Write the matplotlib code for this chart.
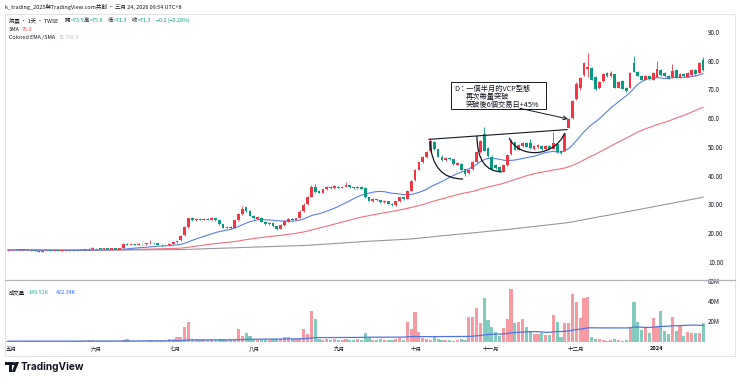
import matplotlib.pyplot as plt
import numpy as np
import pandas as pd
from matplotlib.patches import PathPatch, Rectangle, Polygon
from matplotlib.path import Path
from matplotlib.transforms import blended_transform_factory

plt.rcParams["font.family"] = ["Noto Sans CJK TC", "DejaVu Sans"]

# ---- daily bars, May 2023 .. Jan 2024 ----
opens = [
    14.4, 14.5, 14.6, 14.5, 14.7, 14.6, 14.5, 14.4, 14.1, 13.9,
    14.1, 14.3, 14.2, 14.4, 14.3, 14.4, 14.5, 14.4, 14.5, 14.6,
    14.5, 14.7, 15.0, 15.2, 15.1, 15.0, 15.1, 15.0, 15.1, 15.0,
    15.2, 16.7, 16.3, 16.5, 16.4, 16.6, 16.5, 16.8, 17.1, 16.8,
    16.4, 16.2, 16.3, 16.6, 17.2, 17.9, 19.6, 22.5, 25.5, 24.8,
    25.3, 25.0, 25.4, 25.1, 25.5, 24.9, 23.4, 22.2, 22.5, 22.2,
    24.8, 27.0, 29.4, 28.2, 26.5, 25.4, 25.8, 24.3, 23.4, 24.0,
    22.8, 21.9, 23.2, 24.4, 25.3, 25.0, 25.8, 28.0, 30.4, 33.0,
    36.6, 35.2, 34.5, 35.6, 36.6, 36.0, 36.6, 36.2, 36.6, 37.0,
    36.4, 36.0, 36.5, 36.2, 32.8, 31.4, 32.2, 31.8, 31.2, 31.4,
    30.6, 30.0, 31.4, 32.8, 32.4, 35.2, 38.8, 42.4, 45.0, 46.8,
    48.8, 52.0, 49.6, 47.0, 45.8, 46.4, 46.0, 44.2, 44.6, 42.6,
    41.2, 42.6, 45.0, 48.6, 55.0, 50.0, 47.0, 44.0, 43.4, 41.8,
    44.0, 47.8, 52.0, 49.4, 50.6, 51.8, 51.6, 49.6, 50.2, 50.8,
    49.6, 50.8, 49.8, 51.4, 48.8, 49.0, 57.0, 60.4, 67.0, 71.0,
    75.4, 77.6, 77.8, 74.6, 70.8, 73.2, 76.2, 75.0, 75.6, 71.0,
    73.2, 70.8, 71.0, 79.4, 76.6, 75.0, 73.8, 75.0, 73.8, 74.8,
    77.2, 76.2, 75.2, 74.6, 77.0, 74.4, 75.8, 74.8, 75.4, 77.0,
    76.2, 80.6,
]
closes = [
    14.5, 14.6, 14.5, 14.7, 14.6, 14.5, 14.4, 14.1, 13.9, 14.1,
    14.3, 14.2, 14.4, 14.3, 14.4, 14.5, 14.4, 14.5, 14.6, 14.5,
    14.7, 15.0, 15.2, 15.1, 15.0, 15.1, 15.0, 15.1, 15.0, 15.2,
    16.6, 16.3, 16.5, 16.4, 16.6, 16.5, 16.8, 17.1, 16.8, 16.4,
    16.2, 16.3, 16.6, 17.2, 17.8, 19.5, 22.5, 25.5, 24.8, 25.3,
    25.0, 25.4, 25.1, 25.5, 24.9, 23.4, 22.2, 22.5, 22.0, 24.8,
    27.0, 28.8, 28.0, 26.5, 25.6, 26.0, 24.3, 23.5, 24.0, 22.8,
    21.8, 23.2, 24.6, 25.2, 25.0, 25.6, 27.8, 30.2, 33.0, 36.4,
    34.6, 34.4, 35.6, 36.4, 36.0, 36.8, 36.2, 36.6, 37.2, 36.4,
    36.0, 36.5, 35.8, 32.8, 31.6, 32.2, 31.8, 31.2, 31.6, 30.6,
    30.0, 31.4, 32.8, 32.2, 35.2, 38.6, 42.4, 45.0, 46.8, 48.6,
    52.6, 49.6, 47.0, 45.8, 46.4, 46.0, 44.4, 44.8, 42.4, 41.0,
    42.4, 45.0, 48.6, 52.4, 49.0, 47.2, 42.6, 43.0, 41.8, 44.0,
    47.6, 52.4, 49.4, 51.0, 51.8, 50.4, 50.0, 50.6, 51.0, 49.6,
    50.6, 49.8, 51.6, 48.6, 48.2, 55.0, 60.2, 66.4, 72.4, 74.2,
    79.6, 78.2, 73.8, 70.4, 73.0, 75.6, 75.0, 76.2, 71.0, 73.0,
    70.6, 69.8, 76.2, 76.6, 75.2, 73.8, 75.0, 74.0, 76.2, 77.4,
    75.4, 75.0, 74.2, 76.8, 74.4, 75.6, 75.0, 76.0, 77.2, 75.6,
    79.4, 77.0,
]
highs = [
    14.6, 14.7, 14.7, 14.8, 14.8, 14.7, 14.6, 14.5, 14.2, 14.2,
    14.4, 14.4, 14.5, 14.5, 14.5, 14.6, 14.6, 14.6, 14.7, 14.7,
    14.8, 15.1, 15.4, 15.3, 15.3, 15.2, 15.2, 15.2, 15.2, 15.3,
    16.8, 16.9, 16.7, 16.6, 16.8, 16.7, 17.0, 17.9, 17.2, 16.9,
    16.5, 16.5, 16.8, 17.4, 18.0, 19.8, 22.8, 25.8, 25.9, 25.6,
    25.5, 25.7, 25.6, 25.8, 25.6, 25.0, 23.6, 22.8, 22.7, 25.0,
    27.3, 29.8, 29.6, 28.4, 26.8, 26.3, 26.0, 24.5, 24.3, 24.2,
    23.0, 23.4, 24.8, 25.5, 25.5, 25.8, 28.4, 31.0, 33.4, 37.0,
    37.6, 35.5, 35.8, 36.7, 36.8, 37.0, 36.8, 36.8, 38.0, 37.2,
    36.6, 36.8, 36.7, 36.4, 33.0, 32.5, 32.4, 32.0, 31.8, 31.6,
    30.8, 31.6, 33.0, 33.0, 35.4, 38.8, 42.6, 45.2, 47.2, 49.0,
    53.4, 52.4, 49.8, 47.4, 46.8, 46.8, 46.2, 45.2, 44.8, 42.8,
    42.8, 45.3, 48.9, 52.8, 57.4, 50.4, 47.4, 44.6, 43.6, 44.3,
    47.9, 53.2, 52.2, 51.3, 52.2, 52.0, 53.0, 50.9, 51.3, 51.0,
    50.9, 51.2, 55.6, 51.6, 49.2, 55.3, 60.5, 66.8, 72.8, 74.6,
    79.9, 83.0, 78.2, 74.9, 73.4, 76.0, 76.6, 76.8, 75.9, 73.4,
    73.6, 71.2, 76.6, 82.0, 76.9, 75.3, 75.4, 75.4, 76.6, 80.2,
    77.4, 76.4, 75.5, 79.2, 77.3, 76.0, 76.2, 76.4, 77.6, 77.4,
    79.8, 81.6,
]
lows = [
    14.3, 14.4, 14.4, 14.4, 14.5, 14.4, 14.3, 14.0, 13.8, 13.8,
    14.0, 14.1, 14.1, 14.2, 14.2, 14.3, 14.3, 14.3, 14.4, 14.4,
    14.4, 14.6, 14.9, 15.0, 14.9, 14.9, 14.9, 14.9, 14.9, 14.9,
    15.1, 16.1, 16.2, 16.2, 16.3, 16.4, 16.4, 16.7, 16.6, 16.3,
    16.0, 16.1, 16.2, 16.5, 17.1, 17.7, 19.4, 22.3, 24.5, 24.6,
    24.8, 24.9, 24.9, 25.0, 24.7, 23.2, 22.0, 22.0, 21.8, 22.0,
    24.6, 26.8, 27.8, 26.3, 25.4, 25.2, 24.1, 23.3, 23.2, 22.6,
    21.4, 21.7, 23.0, 24.2, 24.8, 24.9, 25.6, 27.8, 30.2, 32.8,
    34.4, 34.2, 34.3, 35.4, 35.8, 35.8, 36.0, 36.0, 36.4, 36.2,
    35.8, 35.8, 35.6, 32.6, 31.4, 31.2, 31.6, 31.0, 31.0, 30.4,
    29.8, 29.8, 31.2, 32.0, 32.2, 35.0, 38.6, 42.2, 44.8, 46.6,
    48.6, 49.4, 46.8, 45.6, 45.6, 45.8, 44.2, 44.0, 42.2, 40.4,
    41.0, 42.4, 44.8, 48.4, 48.8, 47.0, 42.4, 42.8, 41.6, 41.6,
    43.8, 47.6, 49.2, 49.2, 50.4, 50.2, 49.8, 49.4, 50.0, 49.4,
    49.4, 49.6, 49.6, 48.4, 48.0, 48.8, 56.8, 60.2, 66.8, 70.2,
    75.2, 74.8, 73.6, 70.2, 70.6, 73.0, 74.8, 74.8, 70.8, 70.8,
    70.4, 69.6, 70.8, 76.4, 75.0, 73.6, 73.6, 73.8, 73.6, 74.6,
    75.2, 74.8, 74.0, 74.4, 74.2, 74.2, 74.8, 74.6, 75.2, 75.4,
    76.0, 76.8,
]
# volume in millions of shares
volumes = [
    0.5, 0.6, 0.4, 0.7, 0.5, 0.4, 0.5, 0.8, 0.9, 0.6,
    0.5, 0.4, 0.5, 0.4, 0.5, 0.6, 0.4, 0.5, 0.6, 0.5,
    0.7, 1.7, 1.8, 0.9, 0.7, 0.6, 0.8, 0.6, 0.7, 0.9,
    1.5, 2.4, 1.0, 0.8, 1.1, 0.9, 1.2, 1.7, 1.0, 0.9,
    0.8, 1.0, 2.4, 3.0, 4.5, 4.5, 15.0, 19.4, 3.0, 2.4,
    2.2, 2.6, 2.0, 2.4, 2.2, 2.7, 2.5, 2.0, 2.3, 3.0,
    12.4, 6.0, 9.0, 5.7, 2.6, 2.2, 2.8, 2.4, 2.0, 2.5,
    3.0, 2.4, 5.0, 5.0, 3.0, 2.6, 3.0, 12.4, 7.7, 30.7,
    22.4, 2.4, 2.2, 2.6, 2.0, 2.4, 2.2, 2.0, 2.4, 2.2,
    2.0, 2.3, 2.1, 8.4, 3.3, 2.2, 1.8, 2.5, 2.0, 1.6,
    1.5, 2.4, 3.3, 2.0, 20.0, 12.7, 29.4, 9.4, 3.4, 2.6,
    2.2, 5.0, 2.4, 1.8, 1.5, 2.0, 1.2, 1.6, 2.4, 2.0,
    25.0, 25.0, 34.0, 18.4, 43.4, 21.7, 15.0, 10.0, 6.0, 13.4,
    22.7, 52.4, 18.4, 19.4, 22.7, 15.0, 11.0, 8.0, 7.5, 9.0,
    7.0, 6.7, 26.7, 20.0, 5.0, 18.4, 18.4, 47.7, 40.0, 24.0,
    43.4, 44.4, 4.4, 3.0, 2.4, 1.5, 1.2, 1.8, 2.4, 1.4,
    1.0, 1.6, 13.4, 39.4, 19.4, 11.7, 14.0, 8.4, 23.4, 16.0,
    31.0, 10.7, 7.7, 24.4, 11.0, 16.7, 5.7, 10.0, 8.4, 8.4,
    8.4, 18.4,
]
# level the stock sat at before the visible window (feeds the long SMA)
prior_close = 14.5

month_pos = [0.8, 23, 43.6, 64.1, 86.2, 106.4, 125.8, 148, 169]
month_labels = ["五月", "六月", "七月", "八月", "九月", "十月", "十一月", "十二月", "2024"]
price_ticks = [10, 20, 30, 40, 50, 60, 70, 80, 90]
price_tick_labels = ["10.00", "20.00", "30.00", "40.00", "50.00", "60.0", "70.0", "80.0", "90.0"]
vol_ticks = [20, 40, 60]
vol_tick_labels = ["20M", "40M", "60M"]

UP = "#F23645"
DOWN = "#089981"
TXT = "#131722"
W, H = 740, 385


def fx(x):
    return x / W


def fy(y):
    return 1 - y / H


o = np.array(opens)
c = np.array(closes)
hi = np.array(highs)
lo = np.array(lows)
v = np.array(volumes)
n = len(c)
idx = np.arange(n)
up = c >= o

padded = pd.Series([prior_close] * 239 + closes)
sma20 = padded.rolling(20).mean().iloc[239:].to_numpy()
sma60 = padded.rolling(60).mean().iloc[239:].to_numpy()
sma240 = padded.rolling(240).mean().iloc[239:].to_numpy()
vol_ma = pd.Series(volumes).rolling(60, min_periods=1).mean().to_numpy()

fig = plt.figure(figsize=(7.4, 3.85), dpi=100)
ax = fig.add_axes([fx(5), fy(279), 700 / W, (279 - 14) / H])
axv = fig.add_axes([fx(5), fy(342), 700 / W, (342 - 280) / H])

for a in (ax, axv):
    a.set_xlim(-0.78, 181.5)
    a.set_xticks([])
    a.set_yticks([])
    for s in a.spines.values():
        s.set_visible(False)
    a.patch.set_alpha(0)
ax.set_ylim(4.43, 96.6)
axv.set_ylim(-0.3, 61.7)

# moving averages
ax.plot(idx, sma240, color="#9598A1", lw=0.8, zorder=2)
ax.plot(idx, sma60, color="#F0707E", lw=0.8, zorder=2)
ax.plot(idx, sma20, color="#5B7FEA", lw=0.8, zorder=2)

# candles
colors = np.where(up, UP, DOWN)
ax.vlines(idx, lo, hi, colors=colors, lw=0.6, zorder=3)
body = np.maximum(np.abs(c - o), 0.15)
ax.bar(idx, body, bottom=np.minimum(o, c), width=0.72, color=colors, zorder=4, linewidth=0)

# volume
vcol = [(242 / 255, 54 / 255, 69 / 255, 0.5) if u else (8 / 255, 153 / 255, 129 / 255, 0.5) for u in up]
axv.bar(idx, v, width=0.82, color=vcol, linewidth=0)
axv.plot(idx, vol_ma, color="#4F74E3", lw=0.9)

# ---- drawings: VCP trend line, cups, note box, arrow ----
ax.plot([109.6, 145.6], [53.0, 56.4], color=TXT, lw=0.8, zorder=5)
cup1 = Path([(109.9, 52.4), (110.4, 39.2), (118.5, 39.2)], [Path.MOVETO, Path.CURVE3, Path.CURVE3])
cup2 = Path([(122.1, 54.2), (122.2, 41.8), (128.6, 41.7)], [Path.MOVETO, Path.CURVE3, Path.CURVE3])
cup3 = Path([(130.5, 53.5), (133.0, 46.4), (142.0, 46.4), (145.0, 55.2)],
            [Path.MOVETO, Path.CURVE4, Path.CURVE4, Path.CURVE4])
for p in (cup1, cup2, cup3):
    ax.add_patch(PathPatch(p, fill=False, edgecolor=TXT, lw=0.9, zorder=5))

ax.add_patch(Rectangle((115.4, 63.4), 24.6, 9.5, facecolor="white", edgecolor=TXT, lw=0.7, zorder=6))
ax.text(116.1, 70.5, "D：一個半月的VCP型態", fontsize=5.2, color=TXT, va="center", ha="left", zorder=7)
ax.text(119.3, 67.7, "再次帶量突破", fontsize=5.2, color=TXT, va="center", ha="left", zorder=7)
ax.text(119.3, 65.0, "突破後6個交易日+45%", fontsize=5.2, color=TXT, va="center", ha="left", zorder=7)
ax.annotate("", xy=(145.8, 60.1), xytext=(133.3, 63.8),
            arrowprops=dict(arrowstyle="->", color=TXT, lw=0.7, shrinkA=0, shrinkB=0, mutation_scale=7),
            zorder=6)

# ---- axes labels ----
for t, lab in zip(price_ticks, price_tick_labels):
    ax.text(1.0043, t, lab, transform=blended_transform_factory(ax.transAxes, ax.transData),
            fontsize=4.5, color=TXT, va="center", ha="left")
for t, lab in zip(vol_ticks, vol_tick_labels):
    axv.text(1.0043, t, lab, transform=blended_transform_factory(axv.transAxes, axv.transData),
             fontsize=4.5, color=TXT, va="center", ha="left")
tr = blended_transform_factory(axv.transData, fig.transFigure)
for p, lab in zip(month_pos, month_labels):
    axv.text(p, fy(349), lab, transform=tr, fontsize=4.0, color=TXT, va="center", ha="center",
             fontweight="bold" if lab == "2024" else "normal")

# frame and pane separator
fig.add_artist(Rectangle((fx(5), fy(356)), 730 / W, (356 - 13.5) / H, transform=fig.transFigure,
                         fill=False, edgecolor="#E0E3EB", lw=0.7))
fig.add_artist(plt.Line2D([fx(5), fx(735)], [fy(279.5), fy(279.5)], transform=fig.transFigure,
                          color="#B2B5BE", lw=0.9))


# ---- legend rows ----
def row(x, y, parts, size=3.9):
    r = fig.canvas.get_renderer()
    xp = x
    for txt, col in parts:
        t = fig.text(fx(xp), fy(y), txt, fontsize=size, color=col, va="center", ha="left")
        xp += t.get_window_extent(r).width


fig.text(fx(5), fy(7), "k_trading_2025與TradingView.com共創 · 三月 24, 2026 09:54 UTC+8",
         fontsize=4.0, color=TXT, va="center", ha="left")
row(9, 20.7, [("焜震 · 1天 · TWSE", TXT)])
row(65, 20.7, [("開", TXT), ("=73.5", DOWN)])
row(84, 20.7, [("高", TXT), ("=75.6", DOWN)])
row(108, 20.7, [("低", TXT), ("=71.3", DOWN)])
row(132, 20.7, [("收", TXT), ("=71.3", DOWN)])
row(156, 20.7, [("−0.2 (−0.28%)", DOWN)])
row(9, 29.3, [("SMA", TXT)])
row(22, 29.3, [("76.9", "#F7525F")])
row(9, 37.7, [("Colored EMA /SMA", TXT)])
row(59, 37.7, [("72.7", "#A9B6D6")])
row(69, 37.7, [("61.8", "#C4C7CF")])
row(8.5, 292.5, [("成交量", TXT)])
row(28.5, 292.5, [("149.51K", "#22AB94")])
row(56, 292.5, [("422.34K", "#2962FF")])

# TradingView mark
logo = [
    Polygon([(fx(5), fy(362)), (fx(11.5), fy(362)), (fx(11.5), fy(372)), (fx(8.5), fy(372)),
             (fx(8.5), fy(365)), (fx(5), fy(365))], closed=True),
    Polygon([(fx(15.5), fy(362)), (fx(19), fy(362)), (fx(15), fy(372)), (fx(11.8), fy(372))], closed=True),
]
for pch in logo:
    pch.set_transform(fig.transFigure)
    pch.set_facecolor(TXT)
    pch.set_edgecolor("none")
    fig.add_artist(pch)
fig.add_artist(plt.Circle((fx(13.3), fy(363.6)), 1.6 / W, transform=fig.transFigure, color=TXT))
fig.text(fx(20.5), fy(367.5), "TradingView", fontsize=7.3, fontweight="bold", color=TXT,
         va="center", ha="left", family=["Inter", "DejaVu Sans"])

fig.savefig("out.png", dpi=100, facecolor="white")
